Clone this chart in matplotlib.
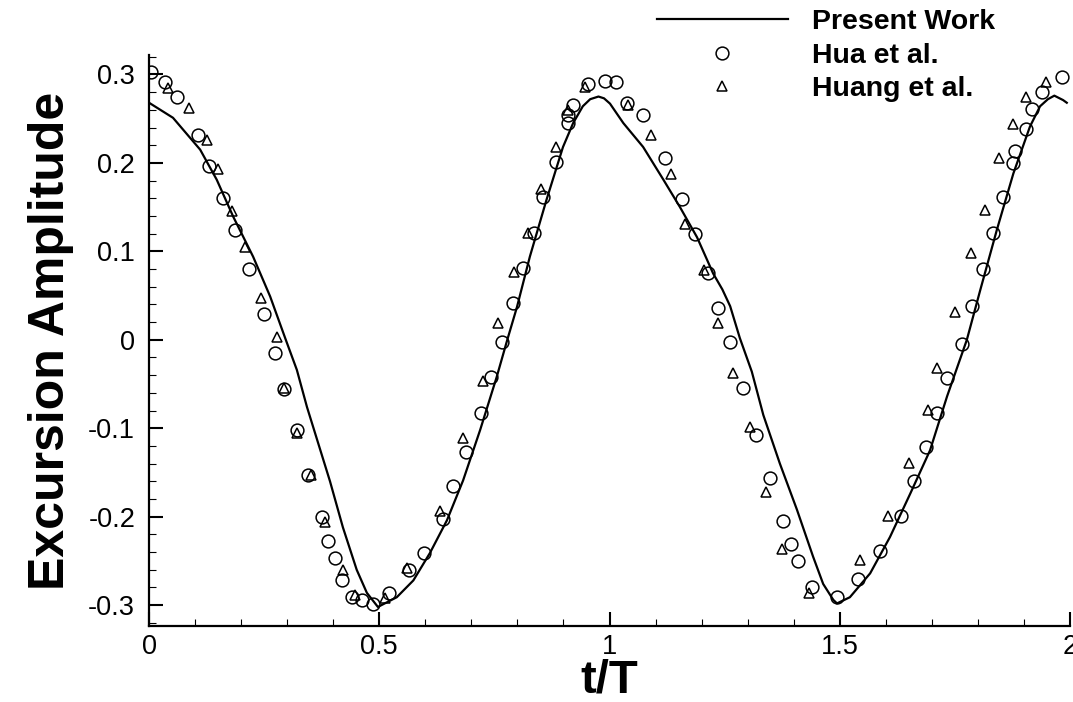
import matplotlib
matplotlib.use("Agg")
import matplotlib.pyplot as plt
from matplotlib.ticker import MultipleLocator

plt.rcParams['font.family'] = ['Liberation Sans', 'DejaVu Sans']

# Present Work: computed excursion over two periods
work_t = [0.000, 0.052, 0.111, 0.147, 0.183, 0.226, 0.263, 0.297, 0.321, 0.343,
          0.393, 0.421, 0.451, 0.473, 0.497, 0.538, 0.574, 0.610, 0.647, 0.682,
          0.719, 0.755, 0.778, 0.799, 0.827, 0.863, 0.899, 0.921, 0.942, 0.958,
          0.976, 0.988, 1.001, 1.030, 1.073, 1.117, 1.153, 1.190, 1.225, 1.245,
          1.262, 1.283, 1.309, 1.334, 1.370, 1.407, 1.442, 1.464, 1.486, 1.494,
          1.522, 1.566, 1.609, 1.653, 1.696, 1.733, 1.776, 1.805, 1.841, 1.877,
          1.913, 1.935, 1.952, 1.966, 1.985, 1.993]
work_v = [0.268, 0.251, 0.215, 0.181, 0.139, 0.094, 0.049, 0.000, -0.034, -0.076,
          -0.160, -0.212, -0.260, -0.286, -0.302, -0.291, -0.272, -0.241, -0.204, -0.159,
          -0.102, -0.042, 0.000, 0.037, 0.094, 0.158, 0.218, 0.245, 0.264, 0.272,
          0.275, 0.273, 0.267, 0.245, 0.218, 0.181, 0.150, 0.116, 0.075, 0.057,
          0.038, 0.002, -0.036, -0.085, -0.140, -0.192, -0.245, -0.276, -0.294, -0.298,
          -0.291, -0.264, -0.223, -0.174, -0.125, -0.064, 0.000, 0.056, 0.124, 0.188,
          0.241, 0.264, 0.272, 0.276, 0.271, 0.268]

# Hua et al.
hua_t = [0.004, 0.035, 0.061, 0.106, 0.130, 0.160, 0.187, 0.216, 0.250, 0.274,
         0.293, 0.321, 0.345, 0.375, 0.389, 0.404, 0.418, 0.440, 0.462, 0.487,
         0.522, 0.565, 0.598, 0.638, 0.660, 0.688, 0.721, 0.743, 0.767, 0.791,
         0.812, 0.836, 0.856, 0.884, 0.910, 0.910, 0.921, 0.953, 0.990, 1.014,
         1.038, 1.073, 1.121, 1.157, 1.186, 1.214, 1.236, 1.262, 1.290, 1.318,
         1.348, 1.377, 1.394, 1.409, 1.440, 1.494, 1.540, 1.587, 1.633, 1.661,
         1.687, 1.711, 1.733, 1.765, 1.787, 1.811, 1.833, 1.855, 1.877, 1.881,
         1.905, 1.918, 1.939, 1.983]
hua_v = [0.303, 0.291, 0.274, 0.232, 0.197, 0.160, 0.124, 0.080, 0.029, -0.015,
         -0.056, -0.102, -0.153, -0.200, -0.228, -0.247, -0.272, -0.291, -0.294, -0.299,
         -0.286, -0.260, -0.241, -0.203, -0.165, -0.127, -0.083, -0.042, -0.002, 0.042,
         0.081, 0.121, 0.162, 0.201, 0.245, 0.254, 0.266, 0.289, 0.293, 0.291,
         0.268, 0.254, 0.205, 0.159, 0.120, 0.076, 0.036, -0.003, -0.055, -0.108,
         -0.156, -0.205, -0.231, -0.250, -0.280, -0.291, -0.270, -0.239, -0.199, -0.160,
         -0.121, -0.083, -0.043, -0.005, 0.038, 0.080, 0.121, 0.162, 0.200, 0.213,
         0.238, 0.261, 0.280, 0.297]

# Huang et al.
huang_t = [0.041, 0.087, 0.126, 0.150, 0.180, 0.208, 0.243, 0.278, 0.293, 0.321,
           0.352, 0.382, 0.421, 0.447, 0.512, 0.560, 0.632, 0.682, 0.725, 0.758,
           0.793, 0.823, 0.851, 0.884, 0.910, 0.947, 1.040, 1.090, 1.133, 1.164,
           1.205, 1.236, 1.268, 1.305, 1.340, 1.374, 1.433, 1.544, 1.605, 1.650,
           1.692, 1.711, 1.750, 1.785, 1.815, 1.846, 1.876, 1.905, 1.948]
huang_v = [0.285, 0.262, 0.226, 0.193, 0.146, 0.105, 0.047, 0.003, -0.054, -0.105,
           -0.153, -0.206, -0.260, -0.289, -0.292, -0.258, -0.193, -0.111, -0.047, 0.019,
           0.077, 0.121, 0.170, 0.218, 0.260, 0.286, 0.265, 0.231, 0.188, 0.131,
           0.079, 0.019, -0.037, -0.099, -0.172, -0.236, -0.286, -0.249, -0.199, -0.139,
           -0.079, -0.032, 0.031, 0.098, 0.147, 0.206, 0.244, 0.275, 0.292]

x_ticks = [0, 0.5, 1, 1.5, 2]
x_tick_labels = ['0', '0.5', '1', '1.5', '2']
y_ticks = [-0.3, -0.2, -0.1, 0, 0.1, 0.2, 0.3]
y_tick_labels = ['-0.3', '-0.2', '-0.1', '0', '0.1', '0.2', '0.3']

fig = plt.figure(figsize=(10.73, 7.02), dpi=100)
ax = fig.add_axes([0.1389, 0.1083, 0.8583, 0.8134])

ax.plot(work_t, work_v, color='black', lw=1.6, label='Present Work', zorder=3,
        solid_joinstyle='round')
ax.plot(hua_t, hua_v, linestyle='none', marker='o', markersize=9.2,
        markerfacecolor='none', markeredgecolor='black', markeredgewidth=1.1,
        label='Hua et al.', zorder=4)
ax.plot(huang_t, huang_v, linestyle='none', marker='^', markersize=7.5,
        markerfacecolor='none', markeredgecolor='black', markeredgewidth=1.1,
        label='Huang et al.', zorder=4)

ax.set_xlim(0, 2)
ax.set_ylim(-0.3235, 0.322)
ax.set_xticks(x_ticks)
ax.set_xticklabels(x_tick_labels)
ax.set_yticks(y_ticks)
ax.set_yticklabels(y_tick_labels)
ax.xaxis.set_minor_locator(MultipleLocator(0.1))
ax.yaxis.set_minor_locator(MultipleLocator(0.02))

for side in ('top', 'right'):
    ax.spines[side].set_visible(False)
for side in ('left', 'bottom'):
    ax.spines[side].set_linewidth(1.6)

ax.tick_params(which='major', direction='in', length=10, width=1.5,
               labelsize=19.5, top=False, right=False)
ax.tick_params(axis='y', which='major', pad=10)
ax.tick_params(axis='x', which='major', pad=6)
ax.tick_params(which='minor', direction='in', length=5, width=0.8,
               top=False, right=False)

ax.set_xlabel('t/T', fontsize=34, fontweight='bold', labelpad=-1.5)
ax.set_ylabel('Excursion Amplitude', fontsize=36, fontweight='bold', labelpad=10)

fig.legend(loc='upper left', bbox_to_anchor=(657 / 1073, 1 - 9 / 702),
           frameon=False, prop={'weight': 'bold', 'size': 20.5},
           handlelength=4.6, handletextpad=0.85, labelspacing=0.27,
           borderpad=0, borderaxespad=0)

fig.savefig('out.png', dpi=100)
